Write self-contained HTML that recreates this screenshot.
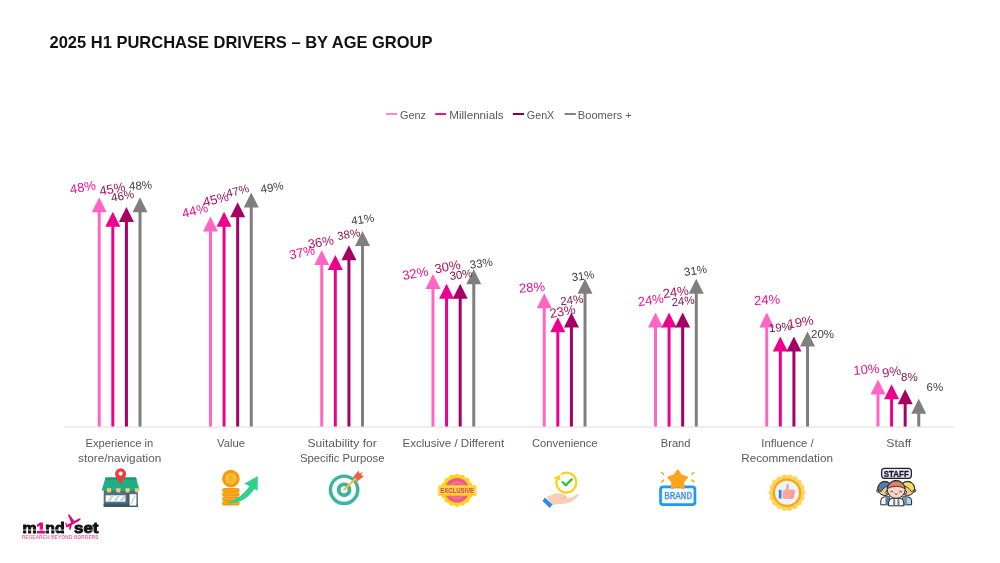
<!DOCTYPE html>
<html lang="en"><head><meta charset="utf-8"><title>2025 H1 Purchase Drivers</title>
<style>
html,body{margin:0;padding:0;background:#fff;}
body{width:1000px;height:563px;overflow:hidden;font-family:"Liberation Sans",sans-serif;}
svg{display:block;will-change:transform;}
text{font-family:"Liberation Sans",sans-serif;}
</style></head><body>
<svg width="1000" height="563" viewBox="0 0 1000 563">
<rect width="1000" height="563" fill="#ffffff"/>
<text x="49.5" y="48.2" font-size="16.6" font-weight="bold" fill="#111111" textLength="383" lengthAdjust="spacingAndGlyphs">2025 H1 PURCHASE DRIVERS – BY AGE GROUP</text>
<line x1="386" y1="114" x2="397.2" y2="114" stroke="#FF85D2" stroke-width="2"/>
<text x="400" y="118.8" font-size="11.6" fill="#595959" textLength="26" lengthAdjust="spacingAndGlyphs">Genz</text>
<line x1="435.2" y1="114" x2="446.2" y2="114" stroke="#F0148C" stroke-width="2"/>
<text x="449.2" y="118.8" font-size="11.6" fill="#595959" textLength="54.4" lengthAdjust="spacingAndGlyphs">Millennials</text>
<line x1="512.8" y1="114" x2="524" y2="114" stroke="#800040" stroke-width="2"/>
<text x="526.8" y="118.8" font-size="11.6" fill="#595959" textLength="27.5" lengthAdjust="spacingAndGlyphs">GenX</text>
<line x1="564.6" y1="114" x2="575.8" y2="114" stroke="#808080" stroke-width="2"/>
<text x="577.8" y="118.8" font-size="11.6" fill="#595959" textLength="54" lengthAdjust="spacingAndGlyphs">Boomers +</text>
<line x1="64.0" y1="427" x2="954.0" y2="427" stroke="#DCDCDC" stroke-width="1"/>
<line x1="99.22" y1="426.5" x2="99.22" y2="211.34" stroke="#FF66C4" stroke-width="3"/>
<polygon points="99.22,197.34 91.72,212.34 106.72,212.34" fill="#FF66C4"/>
<line x1="112.83" y1="426.5" x2="112.83" y2="225.72" stroke="#EC008C" stroke-width="3"/>
<polygon points="112.83,211.72 105.33,226.72 120.33,226.72" fill="#EC008C"/>
<line x1="126.42" y1="426.5" x2="126.42" y2="220.93" stroke="#A50064" stroke-width="3"/>
<polygon points="126.42,206.93 118.92,221.93 133.93,221.93" fill="#A50064"/>
<line x1="140.03" y1="426.5" x2="140.03" y2="211.34" stroke="#7F7F7F" stroke-width="3"/>
<polygon points="140.03,197.34 132.53,212.34 147.53,212.34" fill="#7F7F7F"/>
<line x1="210.47" y1="426.5" x2="210.47" y2="230.52" stroke="#FF66C4" stroke-width="3"/>
<polygon points="210.47,216.52 202.97,231.52 217.97,231.52" fill="#FF66C4"/>
<line x1="224.07" y1="426.5" x2="224.07" y2="225.72" stroke="#EC008C" stroke-width="3"/>
<polygon points="224.07,211.72 216.57,226.72 231.57,226.72" fill="#EC008C"/>
<line x1="237.68" y1="426.5" x2="237.68" y2="216.13" stroke="#A50064" stroke-width="3"/>
<polygon points="237.68,202.13 230.18,217.13 245.18,217.13" fill="#A50064"/>
<line x1="251.28" y1="426.5" x2="251.28" y2="206.55" stroke="#7F7F7F" stroke-width="3"/>
<polygon points="251.28,192.55 243.78,207.55 258.77,207.55" fill="#7F7F7F"/>
<line x1="321.73" y1="426.5" x2="321.73" y2="264.09" stroke="#FF66C4" stroke-width="3"/>
<polygon points="321.73,250.09 314.23,265.09 329.23,265.09" fill="#FF66C4"/>
<line x1="335.32" y1="426.5" x2="335.32" y2="268.88" stroke="#EC008C" stroke-width="3"/>
<polygon points="335.32,254.88 327.82,269.88 342.82,269.88" fill="#EC008C"/>
<line x1="348.93" y1="426.5" x2="348.93" y2="259.29" stroke="#A50064" stroke-width="3"/>
<polygon points="348.93,245.29 341.43,260.29 356.43,260.29" fill="#A50064"/>
<line x1="362.52" y1="426.5" x2="362.52" y2="244.91" stroke="#7F7F7F" stroke-width="3"/>
<polygon points="362.52,230.91 355.02,245.91 370.02,245.91" fill="#7F7F7F"/>
<line x1="432.98" y1="426.5" x2="432.98" y2="288.06" stroke="#FF66C4" stroke-width="3"/>
<polygon points="432.98,274.06 425.48,289.06 440.48,289.06" fill="#FF66C4"/>
<line x1="446.57" y1="426.5" x2="446.57" y2="297.65" stroke="#EC008C" stroke-width="3"/>
<polygon points="446.57,283.65 439.07,298.65 454.07,298.65" fill="#EC008C"/>
<line x1="460.18" y1="426.5" x2="460.18" y2="297.65" stroke="#A50064" stroke-width="3"/>
<polygon points="460.18,283.65 452.68,298.65 467.68,298.65" fill="#A50064"/>
<line x1="473.77" y1="426.5" x2="473.77" y2="283.26" stroke="#7F7F7F" stroke-width="3"/>
<polygon points="473.77,269.26 466.27,284.26 481.27,284.26" fill="#7F7F7F"/>
<line x1="544.23" y1="426.5" x2="544.23" y2="307.24" stroke="#FF66C4" stroke-width="3"/>
<polygon points="544.23,293.24 536.73,308.24 551.73,308.24" fill="#FF66C4"/>
<line x1="557.83" y1="426.5" x2="557.83" y2="331.22" stroke="#EC008C" stroke-width="3"/>
<polygon points="557.83,317.22 550.33,332.22 565.33,332.22" fill="#EC008C"/>
<line x1="571.42" y1="426.5" x2="571.42" y2="326.42" stroke="#A50064" stroke-width="3"/>
<polygon points="571.42,312.42 563.92,327.42 578.92,327.42" fill="#A50064"/>
<line x1="585.02" y1="426.5" x2="585.02" y2="292.86" stroke="#7F7F7F" stroke-width="3"/>
<polygon points="585.02,278.86 577.52,293.86 592.52,293.86" fill="#7F7F7F"/>
<line x1="655.48" y1="426.5" x2="655.48" y2="326.42" stroke="#FF66C4" stroke-width="3"/>
<polygon points="655.48,312.42 647.98,327.42 662.98,327.42" fill="#FF66C4"/>
<line x1="669.08" y1="426.5" x2="669.08" y2="326.42" stroke="#EC008C" stroke-width="3"/>
<polygon points="669.08,312.42 661.58,327.42 676.58,327.42" fill="#EC008C"/>
<line x1="682.67" y1="426.5" x2="682.67" y2="326.42" stroke="#A50064" stroke-width="3"/>
<polygon points="682.67,312.42 675.17,327.42 690.17,327.42" fill="#A50064"/>
<line x1="696.27" y1="426.5" x2="696.27" y2="292.86" stroke="#7F7F7F" stroke-width="3"/>
<polygon points="696.27,278.86 688.77,293.86 703.77,293.86" fill="#7F7F7F"/>
<line x1="766.73" y1="426.5" x2="766.73" y2="326.42" stroke="#FF66C4" stroke-width="3"/>
<polygon points="766.73,312.42 759.23,327.42 774.23,327.42" fill="#FF66C4"/>
<line x1="780.33" y1="426.5" x2="780.33" y2="350.39" stroke="#EC008C" stroke-width="3"/>
<polygon points="780.33,336.39 772.83,351.39 787.83,351.39" fill="#EC008C"/>
<line x1="793.92" y1="426.5" x2="793.92" y2="350.39" stroke="#A50064" stroke-width="3"/>
<polygon points="793.92,336.39 786.42,351.39 801.42,351.39" fill="#A50064"/>
<line x1="807.52" y1="426.5" x2="807.52" y2="345.60" stroke="#7F7F7F" stroke-width="3"/>
<polygon points="807.52,331.60 800.02,346.60 815.02,346.60" fill="#7F7F7F"/>
<line x1="877.98" y1="426.5" x2="877.98" y2="393.55" stroke="#FF66C4" stroke-width="3"/>
<polygon points="877.98,379.55 870.48,394.55 885.48,394.55" fill="#FF66C4"/>
<line x1="891.58" y1="426.5" x2="891.58" y2="398.35" stroke="#EC008C" stroke-width="3"/>
<polygon points="891.58,384.35 884.08,399.35 899.08,399.35" fill="#EC008C"/>
<line x1="905.17" y1="426.5" x2="905.17" y2="403.14" stroke="#A50064" stroke-width="3"/>
<polygon points="905.17,389.14 897.67,404.14 912.67,404.14" fill="#A50064"/>
<line x1="918.77" y1="426.5" x2="918.77" y2="412.73" stroke="#7F7F7F" stroke-width="3"/>
<polygon points="918.77,398.73 911.27,413.73 926.27,413.73" fill="#7F7F7F"/>
<text x="82.8" y="187.2" font-size="13" fill="#EE1289" text-anchor="middle" dominant-baseline="central" transform="rotate(-10 82.8 187.2)">48%</text>
<text x="112.2" y="188.8" font-size="13" fill="#B0105F" text-anchor="middle" dominant-baseline="central" transform="rotate(-10 112.2 188.8)">45%</text>
<text x="122.5" y="195.8" font-size="11.5" fill="#7A1048" text-anchor="middle" dominant-baseline="central" transform="rotate(-10 122.5 195.8)">46%</text>
<text x="140.5" y="185.3" font-size="11.5" fill="#404040" text-anchor="middle" dominant-baseline="central" transform="rotate(-4 140.5 185.3)">48%</text>
<text x="194.9" y="210.4" font-size="13" fill="#EE1289" text-anchor="middle" dominant-baseline="central" transform="rotate(-14 194.9 210.4)">44%</text>
<text x="215.7" y="199.2" font-size="13" fill="#B0105F" text-anchor="middle" dominant-baseline="central" transform="rotate(-14 215.7 199.2)">45%</text>
<text x="237.5" y="190.8" font-size="11.5" fill="#7A1048" text-anchor="middle" dominant-baseline="central" transform="rotate(-14 237.5 190.8)">47%</text>
<text x="272.0" y="187.4" font-size="11.5" fill="#404040" text-anchor="middle" dominant-baseline="central" transform="rotate(-10 272.0 187.4)">49%</text>
<text x="302.0" y="252.3" font-size="13" fill="#EE1289" text-anchor="middle" dominant-baseline="central" transform="rotate(-12 302.0 252.3)">37%</text>
<text x="320.7" y="242.0" font-size="13" fill="#B0105F" text-anchor="middle" dominant-baseline="central" transform="rotate(-10 320.7 242.0)">36%</text>
<text x="348.7" y="234.2" font-size="11.5" fill="#7A1048" text-anchor="middle" dominant-baseline="central" transform="rotate(-10 348.7 234.2)">38%</text>
<text x="362.6" y="219.3" font-size="11.5" fill="#404040" text-anchor="middle" dominant-baseline="central" transform="rotate(-8 362.6 219.3)">41%</text>
<text x="415.2" y="273.3" font-size="13" fill="#EE1289" text-anchor="middle" dominant-baseline="central" transform="rotate(-10 415.2 273.3)">32%</text>
<text x="447.5" y="266.7" font-size="13" fill="#B0105F" text-anchor="middle" dominant-baseline="central" transform="rotate(-10 447.5 266.7)">30%</text>
<text x="461.0" y="274.5" font-size="11.5" fill="#7A1048" text-anchor="middle" dominant-baseline="central" transform="rotate(-8 461.0 274.5)">30%</text>
<text x="481.2" y="263.3" font-size="11.5" fill="#404040" text-anchor="middle" dominant-baseline="central" transform="rotate(-8 481.2 263.3)">33%</text>
<text x="532.0" y="287.4" font-size="13" fill="#EE1289" text-anchor="middle" dominant-baseline="central" transform="rotate(-4 532.0 287.4)">28%</text>
<text x="562.5" y="311.3" font-size="13" fill="#B0105F" text-anchor="middle" dominant-baseline="central" transform="rotate(-10 562.5 311.3)">23%</text>
<text x="571.8" y="300.0" font-size="11.5" fill="#7A1048" text-anchor="middle" dominant-baseline="central" transform="rotate(-6 571.8 300.0)">24%</text>
<text x="583.0" y="275.8" font-size="11.5" fill="#404040" text-anchor="middle" dominant-baseline="central" transform="rotate(-8 583.0 275.8)">31%</text>
<text x="650.8" y="300.0" font-size="13" fill="#EE1289" text-anchor="middle" dominant-baseline="central" transform="rotate(-8 650.8 300.0)">24%</text>
<text x="675.7" y="292.0" font-size="13" fill="#B0105F" text-anchor="middle" dominant-baseline="central" transform="rotate(-8 675.7 292.0)">24%</text>
<text x="683.0" y="301.0" font-size="11.5" fill="#7A1048" text-anchor="middle" dominant-baseline="central" transform="rotate(-6 683.0 301.0)">24%</text>
<text x="695.4" y="270.5" font-size="11.5" fill="#404040" text-anchor="middle" dominant-baseline="central" transform="rotate(-8 695.4 270.5)">31%</text>
<text x="767.0" y="299.8" font-size="13" fill="#EE1289" text-anchor="middle" dominant-baseline="central" transform="rotate(-3 767.0 299.8)">24%</text>
<text x="780.4" y="327.2" font-size="11.5" fill="#7A1048" text-anchor="middle" dominant-baseline="central" transform="rotate(-6 780.4 327.2)">19%</text>
<text x="800.6" y="322.0" font-size="13" fill="#B0105F" text-anchor="middle" dominant-baseline="central" transform="rotate(-10 800.6 322.0)">19%</text>
<text x="822.5" y="334.0" font-size="11.5" fill="#404040" text-anchor="middle" dominant-baseline="central" transform="rotate(0 822.5 334.0)">20%</text>
<text x="866.4" y="369.3" font-size="13" fill="#EE1289" text-anchor="middle" dominant-baseline="central" transform="rotate(-5 866.4 369.3)">10%</text>
<text x="891.6" y="371.8" font-size="13" fill="#B0105F" text-anchor="middle" dominant-baseline="central" transform="rotate(-10 891.6 371.8)">9%</text>
<text x="909.4" y="377.4" font-size="11.5" fill="#7A1048" text-anchor="middle" dominant-baseline="central" transform="rotate(0 909.4 377.4)">8%</text>
<text x="934.8" y="387.3" font-size="11.5" fill="#404040" text-anchor="middle" dominant-baseline="central" transform="rotate(0 934.8 387.3)">6%</text>
<text x="85.5" y="447" font-size="11.6" fill="#595959" textLength="67.75" lengthAdjust="spacingAndGlyphs">Experience in</text>
<text x="78.0" y="462" font-size="11.6" fill="#595959" textLength="83.25" lengthAdjust="spacingAndGlyphs">store/navigation</text>
<text x="217.0" y="447" font-size="11.6" fill="#595959" textLength="28.0" lengthAdjust="spacingAndGlyphs">Value</text>
<text x="307.5" y="447" font-size="11.6" fill="#595959" textLength="69.25" lengthAdjust="spacingAndGlyphs">Suitability for</text>
<text x="300.0" y="462" font-size="11.6" fill="#595959" textLength="84.5" lengthAdjust="spacingAndGlyphs">Specific Purpose</text>
<text x="402.5" y="447" font-size="11.6" fill="#595959" textLength="101.75" lengthAdjust="spacingAndGlyphs">Exclusive / Different</text>
<text x="532.0" y="447" font-size="11.6" fill="#595959" textLength="65.5" lengthAdjust="spacingAndGlyphs">Convenience</text>
<text x="660.75" y="447" font-size="11.6" fill="#595959" textLength="29.75" lengthAdjust="spacingAndGlyphs">Brand</text>
<text x="761.25" y="447" font-size="11.6" fill="#595959" textLength="52.5" lengthAdjust="spacingAndGlyphs">Influence /</text>
<text x="741.25" y="462" font-size="11.6" fill="#595959" textLength="91.75" lengthAdjust="spacingAndGlyphs">Recommendation</text>
<text x="886.25" y="447" font-size="11.6" fill="#595959" textLength="25.0" lengthAdjust="spacingAndGlyphs">Staff</text>
<g id="ic-store">
<rect x="103.7" y="489" width="34.2" height="18" fill="#4E7088"/>
<rect x="103.7" y="503.6" width="34.2" height="3.4" fill="#3E586B"/>
<rect x="105.6" y="495.3" width="19.8" height="6.4" fill="#FFFFFF"/>
<path d="M107,501.7 l4.6,-6.4 h3 l-4.6,6.4z M113,501.7 l4.6,-6.4 h3 l-4.6,6.4z M119,501.7 l4.6,-6.4 h1.8 v1.6 l-3.4,4.8z" fill="#C9D3DA"/>
<rect x="127.4" y="493.2" width="1.4" height="12.5" fill="#3E586B"/>
<rect x="129.6" y="494.2" width="6.8" height="11.4" fill="#FFFFFF"/>
<path d="M130.2,503.5 l4.2,-8 h1.6 l-4.2,8z" fill="#C9D3DA"/>
<polygon points="105.6,477.6 136,477.6 139.6,490.6 101.6,490.6" fill="#1FAF84"/>
<polygon points="105.6,477.6 136,477.6 136.6,479.6 105,479.6" fill="#12996F"/>
<path d="M106.80,488.2 h4.4 v2.2 a2.20,2.20 0 0 1 -4.4,0z" fill="#F8CB5C"/>
<path d="M116.10,488.2 h4.4 v2.2 a2.20,2.20 0 0 1 -4.4,0z" fill="#F8CB5C"/>
<path d="M125.40,488.2 h4.4 v2.2 a2.20,2.20 0 0 1 -4.4,0z" fill="#F8CB5C"/>
<path d="M134.90,488.2 h4.0 v2.2 a2.00,2.00 0 0 1 -4.0,0z" fill="#F8CB5C"/>
<path d="M120.6,484.6 C118,480 115.1,477.3 115.1,473.8 a5.5,5.5 0 1 1 11,0 C126.1,477.3 123.2,480 120.6,484.6z" fill="#EE3B3B"/>
<circle cx="120.6" cy="473.6" r="2.1" fill="#FFFFFF"/>
</g>
<g id="ic-value">
<rect x="222.1" y="487.9" width="17.6" height="4.5" rx="2.2" fill="#F59A0C"/>
<rect x="223" y="489.29999999999995" width="15.8" height="1.3" rx="0.6" fill="#F7A91F"/>
<rect x="222.1" y="492.3" width="17.6" height="4.5" rx="2.2" fill="#F59A0C"/>
<rect x="223" y="493.7" width="15.8" height="1.3" rx="0.6" fill="#F7A91F"/>
<rect x="222.1" y="496.7" width="17.6" height="4.5" rx="2.2" fill="#F59A0C"/>
<rect x="223" y="498.09999999999997" width="15.8" height="1.3" rx="0.6" fill="#F7A91F"/>
<rect x="222.1" y="501.1" width="17.6" height="4.5" rx="2.2" fill="#F59A0C"/>
<rect x="223" y="502.5" width="15.8" height="1.3" rx="0.6" fill="#F7A91F"/>
<circle cx="230.9" cy="478.6" r="8.8" fill="#F59A0C"/>
<circle cx="230.9" cy="478.6" r="5.7" fill="#FBBB3C"/>
<text x="230.9" y="481.3" font-size="7.5" font-weight="bold" fill="#F7A21A" text-anchor="middle">$</text>
<path d="M227.8,503.4 Q245,503.8 254.6,488.6 L250,485.6 Q241.5,498.6 227.8,502.2z" fill="#2FD28C"/>
<polygon points="244.4,483.4 257.9,476 257.6,490.8" fill="#2FD28C"/>
</g>
<g id="ic-target">
<circle cx="344.1" cy="489.8" r="13.7" fill="#FFFFFF" stroke="#3BB5A0" stroke-width="3.4"/>
<circle cx="344.1" cy="489.8" r="5.4" fill="#FFFFFF" stroke="#3BB5A0" stroke-width="3.9"/>
<line x1="344.1" y1="489.8" x2="356.4" y2="478" stroke="#FBC02D" stroke-width="2.1" stroke-linecap="round"/>
<g transform="translate(355.2,479.2) rotate(-44)">
<polygon points="-0.5,-3 8.6,-3.8 7,-1.3 10,0 7,1.3 8.6,3.8 -0.5,3 1.2,0" fill="#EF5B4C"/>
</g>
<circle cx="361.6" cy="473" r="1" fill="#FBC02D"/>
</g>
<g id="ic-exclusive">
<polygon points="473.65,490.30 473.62,490.59 473.54,490.88 473.41,491.16 473.25,491.44 473.05,491.70 472.84,491.97 472.64,492.22 472.45,492.47 472.28,492.72 472.16,492.97 472.07,493.23 472.03,493.49 472.03,493.77 472.07,494.06 472.14,494.36 472.23,494.67 472.32,494.98 472.41,495.31 472.47,495.63 472.50,495.94 472.49,496.25 472.43,496.53 472.32,496.80 472.16,497.05 471.95,497.27 471.71,497.47 471.44,497.66 471.15,497.82 470.86,497.98 470.57,498.14 470.31,498.30 470.08,498.47 469.89,498.67 469.73,498.88 469.61,499.13 469.52,499.40 469.46,499.69 469.42,500.00 469.38,500.33 469.34,500.66 469.29,500.98 469.21,501.30 469.10,501.59 468.96,501.85 468.77,502.07 468.55,502.26 468.29,502.40 468.00,502.51 467.68,502.59 467.36,502.64 467.03,502.68 466.70,502.72 466.39,502.76 466.10,502.82 465.83,502.91 465.58,503.03 465.37,503.19 465.17,503.38 465.00,503.61 464.84,503.87 464.68,504.16 464.52,504.45 464.36,504.74 464.17,505.01 463.97,505.25 463.75,505.46 463.50,505.62 463.23,505.73 462.95,505.79 462.64,505.80 462.33,505.77 462.01,505.71 461.68,505.62 461.37,505.53 461.06,505.44 460.76,505.37 460.47,505.33 460.19,505.33 459.93,505.37 459.67,505.46 459.42,505.58 459.17,505.75 458.92,505.94 458.67,506.14 458.40,506.35 458.14,506.55 457.86,506.71 457.58,506.84 457.29,506.92 457.00,506.95 456.71,506.92 456.42,506.84 456.14,506.71 455.86,506.55 455.60,506.35 455.33,506.14 455.08,505.94 454.83,505.75 454.58,505.58 454.33,505.46 454.07,505.37 453.81,505.33 453.53,505.33 453.24,505.37 452.94,505.44 452.63,505.53 452.32,505.62 451.99,505.71 451.67,505.77 451.36,505.80 451.05,505.79 450.77,505.73 450.50,505.62 450.25,505.46 450.03,505.25 449.83,505.01 449.64,504.74 449.48,504.45 449.32,504.16 449.16,503.87 449.00,503.61 448.83,503.38 448.63,503.19 448.42,503.03 448.17,502.91 447.90,502.82 447.61,502.76 447.30,502.72 446.97,502.68 446.64,502.64 446.32,502.59 446.00,502.51 445.71,502.40 445.45,502.26 445.23,502.07 445.04,501.85 444.90,501.59 444.79,501.30 444.71,500.98 444.66,500.66 444.62,500.33 444.58,500.00 444.54,499.69 444.48,499.40 444.39,499.13 444.27,498.88 444.11,498.67 443.92,498.47 443.69,498.30 443.43,498.14 443.14,497.98 442.85,497.82 442.56,497.66 442.29,497.47 442.05,497.27 441.84,497.05 441.68,496.80 441.57,496.53 441.51,496.25 441.50,495.94 441.53,495.63 441.59,495.31 441.68,494.98 441.77,494.67 441.86,494.36 441.93,494.06 441.97,493.77 441.97,493.49 441.93,493.23 441.84,492.97 441.72,492.72 441.55,492.47 441.36,492.22 441.16,491.97 440.95,491.70 440.75,491.44 440.59,491.16 440.46,490.88 440.38,490.59 440.35,490.30 440.38,490.01 440.46,489.72 440.59,489.44 440.75,489.16 440.95,488.90 441.16,488.63 441.36,488.38 441.55,488.13 441.72,487.88 441.84,487.63 441.93,487.37 441.97,487.11 441.97,486.83 441.93,486.54 441.86,486.24 441.77,485.93 441.68,485.62 441.59,485.29 441.53,484.97 441.50,484.66 441.51,484.35 441.57,484.07 441.68,483.80 441.84,483.55 442.05,483.33 442.29,483.13 442.56,482.94 442.85,482.78 443.14,482.62 443.43,482.46 443.69,482.30 443.92,482.13 444.11,481.93 444.27,481.72 444.39,481.47 444.48,481.20 444.54,480.91 444.58,480.60 444.62,480.27 444.66,479.94 444.71,479.62 444.79,479.30 444.90,479.01 445.04,478.75 445.23,478.53 445.45,478.34 445.71,478.20 446.00,478.09 446.32,478.01 446.64,477.96 446.97,477.92 447.30,477.88 447.61,477.84 447.90,477.78 448.17,477.69 448.42,477.57 448.63,477.41 448.83,477.22 449.00,476.99 449.16,476.73 449.32,476.44 449.48,476.15 449.64,475.86 449.83,475.59 450.03,475.35 450.25,475.14 450.50,474.98 450.77,474.87 451.05,474.81 451.36,474.80 451.67,474.83 451.99,474.89 452.32,474.98 452.63,475.07 452.94,475.16 453.24,475.23 453.53,475.27 453.81,475.27 454.07,475.23 454.33,475.14 454.58,475.02 454.83,474.85 455.08,474.66 455.33,474.46 455.60,474.25 455.86,474.05 456.14,473.89 456.42,473.76 456.71,473.68 457.00,473.65 457.29,473.68 457.58,473.76 457.86,473.89 458.14,474.05 458.40,474.25 458.67,474.46 458.92,474.66 459.17,474.85 459.42,475.02 459.67,475.14 459.93,475.23 460.19,475.27 460.47,475.27 460.76,475.23 461.06,475.16 461.37,475.07 461.68,474.98 462.01,474.89 462.33,474.83 462.64,474.80 462.95,474.81 463.23,474.87 463.50,474.98 463.75,475.14 463.97,475.35 464.17,475.59 464.36,475.86 464.52,476.15 464.68,476.44 464.84,476.73 465.00,476.99 465.17,477.22 465.37,477.41 465.58,477.57 465.83,477.69 466.10,477.78 466.39,477.84 466.70,477.88 467.03,477.92 467.36,477.96 467.68,478.01 468.00,478.09 468.29,478.20 468.55,478.34 468.77,478.53 468.96,478.75 469.10,479.01 469.21,479.30 469.29,479.62 469.34,479.94 469.38,480.27 469.42,480.60 469.46,480.91 469.52,481.20 469.61,481.47 469.73,481.72 469.89,481.93 470.08,482.13 470.31,482.30 470.57,482.46 470.86,482.62 471.15,482.78 471.44,482.94 471.71,483.13 471.95,483.33 472.16,483.55 472.32,483.80 472.43,484.07 472.49,484.35 472.50,484.66 472.47,484.97 472.41,485.29 472.32,485.62 472.23,485.93 472.14,486.24 472.07,486.54 472.03,486.83 472.03,487.11 472.07,487.37 472.16,487.63 472.28,487.88 472.45,488.13 472.64,488.38 472.84,488.63 473.05,488.90 473.25,489.16 473.41,489.44 473.54,489.72 473.62,490.01" fill="#FFD21F"/>
<circle cx="457" cy="490.3" r="12.3" fill="#F05A86"/><circle cx="457" cy="490.3" r="9" fill="#F3709A"/><circle cx="457" cy="490.3" r="6.5" fill="#F05A86"/>

<rect x="438.2" y="485.2" width="38.2" height="10.3" fill="#FFD93B"/>
<rect x="438.2" y="494.3" width="38.2" height="1.2" fill="#F8C51C"/>
<text x="440.3" y="493.4" font-size="7.2" font-weight="bold" fill="#E0356B" textLength="33.8" lengthAdjust="spacingAndGlyphs">EXCLUSIVE</text>
</g>
<g id="ic-conv">
<path d="M561.35,474.03 A9.9,9.9 0 1 1 557.00,479.21" fill="none" stroke="#F9D21C" stroke-width="2.3"/>
<polygon points="553.4,478.2 560.6,474.4 560.2,480.6" fill="#F9D21C"/>
<polyline points="562.6,482.1 565.8,485.3 571.7,479.3" fill="none" stroke="#1DC91D" stroke-width="2.1" stroke-linecap="round" stroke-linejoin="round"/>
<path d="M546.6,496.8 L554.6,493.4 Q560.5,492.4 566.2,495.4 Q568.2,497 565.6,498 L561,498.2 L571.6,497.4 L577.6,493.9 Q579.6,493.8 578.4,495.8 Q573,502.2 566,503.6 L555,504.4 L552.2,505.2 Z" fill="#FBCDB8"/>
<path d="M561,498.2 L566.5,498" fill="none" stroke="#F3A88C" stroke-width="0.6"/>
<polygon points="544.9,497.5 552.5,504.4 549.7,508 542.5,501" fill="#2F8BEA"/>
</g>
<g id="ic-brand">
<rect x="660.55" y="486.95" width="34.4" height="17.7" rx="2.6" fill="#F1F8FE" stroke="#1E9BEF" stroke-width="2.7"/>
<text x="664.2" y="499.3" font-family="Liberation Mono" font-size="10.4" fill="#3B8DDC" stroke="#3B8DDC" stroke-width="0.25" textLength="27.8" lengthAdjust="spacingAndGlyphs" style="font-family:'Liberation Mono',monospace">BRAND</text>
<polygon points="677.70,470.80 680.99,475.77 686.74,477.36 683.03,482.03 683.28,487.99 677.70,485.90 672.12,487.99 672.37,482.03 668.66,477.36 674.41,475.77" fill="#FFA41B" stroke="#FFA41B" stroke-width="2.4" stroke-linejoin="round"/>
<line x1="661.7" y1="472.5" x2="663.6" y2="474.3" stroke="#FFA41B" stroke-width="1.5" stroke-linecap="round"/>
<line x1="663.6" y1="480.1" x2="661.7" y2="481.9" stroke="#FFA41B" stroke-width="1.5" stroke-linecap="round"/>
<line x1="693.8" y1="472.5" x2="691.9" y2="474.3" stroke="#FFA41B" stroke-width="1.5" stroke-linecap="round"/>
<line x1="691.9" y1="480.1" x2="693.8" y2="481.9" stroke="#FFA41B" stroke-width="1.5" stroke-linecap="round"/>
</g>
<g id="ic-infl">
<polygon points="805.60,492.70 805.56,493.02 805.46,493.34 805.29,493.66 805.07,493.96 804.83,494.26 804.59,494.55 804.36,494.83 804.16,495.11 804.02,495.40 803.94,495.69 803.92,495.99 803.95,496.30 804.04,496.63 804.16,496.98 804.29,497.33 804.41,497.69 804.51,498.05 804.56,498.41 804.55,498.74 804.48,499.06 804.33,499.35 804.12,499.62 803.86,499.85 803.55,500.07 803.22,500.26 802.89,500.45 802.58,500.64 802.30,500.84 802.07,501.06 801.90,501.30 801.77,501.58 801.70,501.89 801.67,502.22 801.66,502.59 801.66,502.97 801.66,503.35 801.62,503.72 801.55,504.07 801.43,504.38 801.25,504.66 801.01,504.88 800.72,505.06 800.39,505.19 800.03,505.28 799.66,505.36 799.28,505.42 798.93,505.49 798.60,505.58 798.31,505.71 798.06,505.88 797.85,506.09 797.67,506.36 797.52,506.67 797.39,507.01 797.27,507.36 797.13,507.72 796.97,508.06 796.79,508.36 796.56,508.61 796.30,508.81 796.00,508.94 795.67,509.00 795.31,509.02 794.94,508.98 794.56,508.92 794.19,508.85 793.83,508.80 793.49,508.77 793.18,508.79 792.88,508.86 792.61,509.00 792.36,509.19 792.11,509.42 791.87,509.70 791.63,509.99 791.38,510.28 791.12,510.54 790.84,510.76 790.54,510.92 790.23,511.02 789.90,511.04 789.57,510.99 789.23,510.87 788.89,510.72 788.56,510.53 788.23,510.34 787.92,510.16 787.60,510.02 787.30,509.93 787.00,509.90 786.70,509.93 786.40,510.02 786.08,510.16 785.77,510.34 785.44,510.53 785.11,510.72 784.77,510.87 784.43,510.99 784.10,511.04 783.77,511.02 783.46,510.92 783.16,510.76 782.88,510.54 782.62,510.28 782.37,509.99 782.13,509.70 781.89,509.42 781.64,509.19 781.39,509.00 781.12,508.86 780.82,508.79 780.51,508.77 780.17,508.80 779.81,508.85 779.44,508.92 779.06,508.98 778.69,509.02 778.33,509.00 778.00,508.94 777.70,508.81 777.44,508.61 777.21,508.36 777.03,508.06 776.87,507.72 776.73,507.36 776.61,507.01 776.48,506.67 776.33,506.36 776.15,506.09 775.94,505.88 775.69,505.71 775.40,505.58 775.07,505.49 774.72,505.42 774.34,505.36 773.97,505.28 773.61,505.19 773.28,505.06 772.99,504.88 772.75,504.66 772.57,504.38 772.45,504.07 772.38,503.72 772.34,503.35 772.34,502.97 772.34,502.59 772.33,502.22 772.30,501.89 772.23,501.58 772.10,501.30 771.93,501.06 771.70,500.84 771.42,500.64 771.11,500.45 770.78,500.26 770.45,500.07 770.14,499.85 769.88,499.62 769.67,499.35 769.52,499.06 769.45,498.74 769.44,498.41 769.49,498.05 769.59,497.69 769.71,497.33 769.84,496.98 769.96,496.63 770.05,496.30 770.08,495.99 770.06,495.69 769.98,495.40 769.84,495.11 769.64,494.83 769.41,494.55 769.17,494.26 768.93,493.96 768.71,493.66 768.54,493.34 768.44,493.02 768.40,492.70 768.44,492.38 768.54,492.06 768.71,491.74 768.93,491.44 769.17,491.14 769.41,490.85 769.64,490.57 769.84,490.29 769.98,490.00 770.06,489.71 770.08,489.41 770.05,489.10 769.96,488.77 769.84,488.42 769.71,488.07 769.59,487.71 769.49,487.35 769.44,486.99 769.45,486.66 769.52,486.34 769.67,486.05 769.88,485.78 770.14,485.55 770.45,485.33 770.78,485.14 771.11,484.95 771.42,484.76 771.70,484.56 771.93,484.34 772.10,484.10 772.23,483.82 772.30,483.51 772.33,483.18 772.34,482.81 772.34,482.43 772.34,482.05 772.38,481.68 772.45,481.33 772.57,481.02 772.75,480.74 772.99,480.52 773.28,480.34 773.61,480.21 773.97,480.12 774.34,480.04 774.72,479.98 775.07,479.91 775.40,479.82 775.69,479.69 775.94,479.52 776.15,479.31 776.33,479.04 776.48,478.73 776.61,478.39 776.73,478.04 776.87,477.68 777.03,477.34 777.21,477.04 777.44,476.79 777.70,476.59 778.00,476.46 778.33,476.40 778.69,476.38 779.06,476.42 779.44,476.48 779.81,476.55 780.17,476.60 780.51,476.63 780.82,476.61 781.12,476.54 781.39,476.40 781.64,476.21 781.89,475.98 782.13,475.70 782.37,475.41 782.62,475.12 782.88,474.86 783.16,474.64 783.46,474.48 783.77,474.38 784.10,474.36 784.43,474.41 784.77,474.53 785.11,474.68 785.44,474.87 785.77,475.06 786.08,475.24 786.40,475.38 786.70,475.47 787.00,475.50 787.30,475.47 787.60,475.38 787.92,475.24 788.23,475.06 788.56,474.87 788.89,474.68 789.23,474.53 789.57,474.41 789.90,474.36 790.23,474.38 790.54,474.48 790.84,474.64 791.12,474.86 791.38,475.12 791.63,475.41 791.87,475.70 792.11,475.98 792.36,476.21 792.61,476.40 792.88,476.54 793.18,476.61 793.49,476.63 793.83,476.60 794.19,476.55 794.56,476.48 794.94,476.42 795.31,476.38 795.67,476.40 796.00,476.46 796.30,476.59 796.56,476.79 796.79,477.04 796.97,477.34 797.13,477.68 797.27,478.04 797.39,478.39 797.52,478.73 797.67,479.04 797.85,479.31 798.06,479.52 798.31,479.69 798.60,479.82 798.93,479.91 799.28,479.98 799.66,480.04 800.03,480.12 800.39,480.21 800.72,480.34 801.01,480.52 801.25,480.74 801.43,481.02 801.55,481.33 801.62,481.68 801.66,482.05 801.66,482.43 801.66,482.81 801.67,483.18 801.70,483.51 801.77,483.82 801.90,484.10 802.07,484.34 802.30,484.56 802.58,484.76 802.89,484.95 803.22,485.14 803.55,485.33 803.86,485.55 804.12,485.78 804.33,486.05 804.48,486.34 804.55,486.66 804.56,486.99 804.51,487.35 804.41,487.71 804.29,488.07 804.16,488.42 804.04,488.77 803.95,489.10 803.92,489.41 803.94,489.71 804.02,490.00 804.16,490.29 804.36,490.57 804.59,490.85 804.83,491.14 805.07,491.44 805.29,491.74 805.46,492.06 805.56,492.38" fill="#FBD65A"/>
<circle cx="787" cy="492.7" r="13.1" fill="#EAF6FB" stroke="#FFA514" stroke-width="2.3"/>
<rect x="778.8" y="489.8" width="2.7" height="8.8" fill="#2E86DE"/>
<path d="M782.5,490.4 L785,490 Q786.6,487.6 786.4,484.6 Q787.4,483 788.6,484.4 Q789.4,487 788.6,489.6 L793.6,489.6 Q795.4,489.8 795,491.4 L794,497.6 Q793.6,499 792,499 L784.6,499 L782.5,498.2 Z" fill="#F9A6A0"/>
<path d="M790.6,492 h4 M790.4,494.3 h4 M790.2,496.6 h3.6" stroke="#F38B86" stroke-width="0.6" fill="none"/>
</g>
<g id="ic-staff" stroke-linejoin="round">
<circle cx="878.2" cy="490.6" r="1.6" fill="#F3C98B" stroke="#222222" stroke-width="0.8"/>
<circle cx="914.2" cy="490.6" r="1.6" fill="#F3C98B" stroke="#222222" stroke-width="0.8"/>
<path d="M880.8,504.8 v-4.6 q0.4,-3.2 4.4,-3.4 h4.4 v8z" fill="#FFFFFF" stroke="#222222" stroke-width="1"/>
<path d="M885.4,504.6 v-7.4 h4 v7.4z" fill="#5B7FA0"/>
<path d="M911.6,504.8 v-4.6 q-0.4,-3.2 -4.4,-3.4 h-4.4 v8z" fill="#9ED8F5" stroke="#222222" stroke-width="1"/>
<path d="M907.0,504.6 v-7.4 h-4 v7.4z" fill="#7D93B5"/>
<circle cx="884.9" cy="488.4" r="7.1" fill="#F3C98B" stroke="#222222" stroke-width="1"/>
<path d="M877.9,489.4 a7.1,7.1 0 0 1 13.6,-3.4 q-7.4,-0.4 -10.2,5.4 q-2,0 -3.4,-2z" fill="#4F7EA8" stroke="#222222" stroke-width="0.8"/>
<circle cx="907.5" cy="488.4" r="7.1" fill="#F3C98B" stroke="#222222" stroke-width="1"/>
<path d="M914.5,489.4 a7.1,7.1 0 0 0 -13.6,-3.4 q7.4,-0.4 10.2,5.4 q2,0 3.4,-2z" fill="#F0E060" stroke="#222222" stroke-width="0.8"/>
<path d="M888.6,505.8 v-3.8 q0.6,-3.6 4.6,-3.8 h6 q4,0.2 4.6,3.8 v3.8z" fill="#FFFFFF" stroke="#222222" stroke-width="1"/>
<path d="M893.2,505.6 v-6.4 h2 v6.4z M897.4,505.6 v-6.4 h2 v6.4z" fill="#5B7FA0"/>
<circle cx="887.4" cy="492.2" r="1.7" fill="#F9D5C5" stroke="#222222" stroke-width="0.8"/>
<circle cx="905.0" cy="492.2" r="1.7" fill="#F9D5C5" stroke="#222222" stroke-width="0.8"/>
<circle cx="896.2" cy="489.4" r="9" fill="#F9D5C5" stroke="#222222" stroke-width="1"/>
<path d="M887.3,488.6 a9,9 0 0 1 17.8,0 q-4.4,-2.4 -8.9,-2.2 q-4.5,-0.2 -8.9,2.2z" fill="#D9846A" stroke="#222222" stroke-width="0.8"/>
<path d="M890.6,491.8 q1.2,-1.6 2.4,0 M899.4,491.8 q1.2,-1.6 2.4,0 M895,493.9 q1.2,1.2 2.4,0" fill="none" stroke="#222222" stroke-width="0.8" stroke-linecap="round"/>
<rect x="881.6" y="468.3" width="29.8" height="10" rx="3" fill="#E9E5FA" stroke="#222222" stroke-width="1.2"/>
<text x="883.8" y="476.6" font-size="9" font-weight="bold" fill="#1A1A1A" stroke="#1A1A1A" stroke-width="0.3" textLength="25" lengthAdjust="spacingAndGlyphs">STAFF</text>
</g>
<g id="logo">
<text x="22.4" y="532.8" font-size="14.6" font-weight="bold" fill="#111111" stroke="#111111" stroke-width="0.9" textLength="42.2" lengthAdjust="spacingAndGlyphs">m<tspan fill="#E6007E" stroke="#E6007E">1</tspan>nd</text>
<text x="74" y="532.8" font-size="14.6" font-weight="bold" fill="#111111" stroke="#111111" stroke-width="0.9" textLength="24.4" lengthAdjust="spacingAndGlyphs">set</text>
<rect x="21" y="529.6" width="45" height="0.8" fill="#FFFFFF"/>
<g fill="#E6007E">
<path d="M66.2,526.9 Q65.6,525.6 67,525 L78,518.9 Q80.2,517.9 80.8,518.6 Q80.9,519.6 79,520.9 L68,527 Q66.8,527.6 66.2,526.9z"/>
<path d="M74.6,521.4 L69.4,514.2 L68,514.9 L71.4,523.2z"/>
<path d="M72.2,523.6 L70.4,530 L69.2,529.6 L69.4,524.8z"/>
<path d="M67.6,525.4 L66,522.6 L65.2,523 L66.2,526.2z"/>
</g>
<text x="22" y="539.2" font-size="4.7" font-weight="bold" fill="#F0669F" textLength="76.5" lengthAdjust="spacing">RESEARCH BEYOND BORDERS</text>
</g>

</svg>
</body></html>
